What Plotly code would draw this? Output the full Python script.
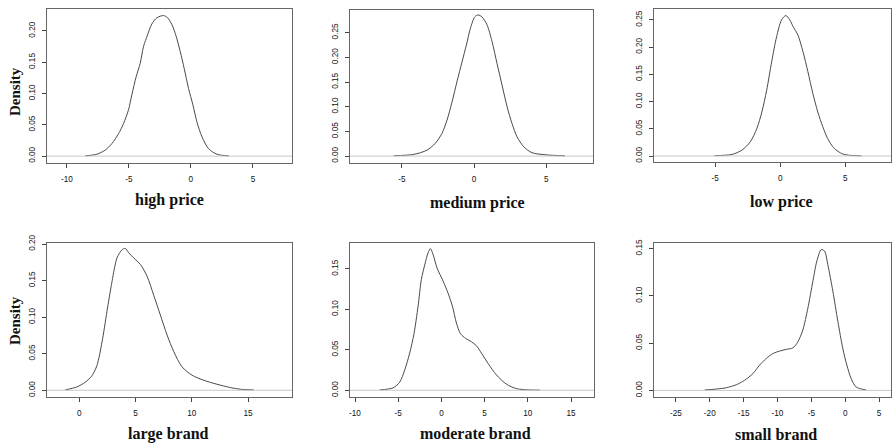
import plotly.graph_objects as go

# ---- data ----
high_price_x = [-8.52, -7.58, -6.91, -6.37, -5.83, -5.43, -5.03, -4.76, -4.41, -4.09, -3.82, -3.49, -3.15,
                -2.74, -2.20, -1.88, -1.53, -1.18, -0.86, -0.54, -0.19, 0.16, 0.48, 0.89, 1.42, 2.10, 3.08]
high_price_y = [0.0005, 0.003, 0.0096, 0.020, 0.036, 0.052, 0.074, 0.098, 0.127, 0.148, 0.175, 0.194, 0.211,
                0.221, 0.2245, 0.221, 0.210, 0.191, 0.167, 0.140, 0.108, 0.082, 0.055, 0.031, 0.012, 0.003,
                0.0003]

medium_price_x = [-5.57, -4.18, -3.26, -2.68, -2.22, -1.87, -1.52, -1.18, -0.83, -0.53, -0.25, 0.05, 0.28,
                  0.55, 0.90, 1.25, 1.59, 1.94, 2.29, 2.63, 2.98, 3.44, 4.02, 5.03, 6.30]
medium_price_y = [0.0007, 0.0034, 0.012, 0.026, 0.046, 0.073, 0.110, 0.151, 0.191, 0.225, 0.259, 0.282, 0.286,
                  0.282, 0.266, 0.232, 0.188, 0.144, 0.100, 0.066, 0.039, 0.019, 0.0068, 0.0025, 0.0005]

low_price_x = [-5.05, -3.69, -2.93, -2.30, -1.79, -1.41, -1.04, -0.66, -0.28, 0.10, 0.43, 0.73, 0.98,
               1.36, 1.74, 2.12, 2.50, 2.88, 3.26, 3.64, 4.14, 4.77, 5.40, 6.23]
low_price_y = [0.0006, 0.003, 0.011, 0.026, 0.051, 0.081, 0.121, 0.173, 0.219, 0.250, 0.258, 0.250, 0.238,
               0.222, 0.192, 0.155, 0.115, 0.081, 0.054, 0.032, 0.014, 0.004, 0.0012, 0.0004]

large_brand_x = [-1.25, -0.21, 0.53, 1.13, 1.57, 2.02, 2.46, 2.91, 3.35, 3.79, 4.09, 4.39, 4.83, 5.43,
                 6.02, 6.61, 7.2, 7.8, 8.39, 9.13, 10.02, 11.06, 12.24, 13.43, 14.32, 15.5]
large_brand_y = [0.0005, 0.0046, 0.011, 0.020, 0.034, 0.066, 0.108, 0.149, 0.181, 0.192, 0.194, 0.188,
                 0.181, 0.172, 0.156, 0.130, 0.103, 0.0755, 0.053, 0.032, 0.0206, 0.0137, 0.0082,
                 0.0037, 0.0014, 0.0005]

moderate_brand_x = [-7.14, -5.60, -4.83, -4.25, -3.67, -3.17, -2.70, -2.32, -1.93, -1.54, -1.27, -0.97, -0.50,
                    0.19, 0.77, 1.27, 1.74, 2.20, 2.82, 3.47, 4.05, 4.63, 5.41, 6.37, 7.53, 8.69, 10.23, 11.38]
moderate_brand_y = [0.0004, 0.003, 0.010, 0.025, 0.046, 0.070, 0.104, 0.137, 0.155, 0.170, 0.175, 0.168, 0.151,
                    0.135, 0.120, 0.104, 0.083, 0.070, 0.064, 0.060, 0.055, 0.046, 0.033, 0.019, 0.0075, 0.002,
                    0.0004, 0.0002]

small_brand_x = [-20.76, -19.04, -17.56, -16.08, -14.85, -13.63, -12.64, -11.66, -10.67, -9.69, -8.71,
                 -7.72, -6.98, -6.25, -5.51, -4.77, -4.18, -3.54, -3.05, -2.56, -1.82, -1.08, -0.34,
                 0.25, 0.89, 1.62, 3.1]
small_brand_y = [0.0004, 0.0014, 0.0028, 0.006, 0.0107, 0.0178, 0.0267, 0.0338, 0.039, 0.0416, 0.0434,
                 0.045, 0.0515, 0.064, 0.087, 0.1155, 0.137, 0.149, 0.1475, 0.133, 0.105, 0.073, 0.044,
                 0.0267, 0.0124, 0.0036, 0.0004]

panel_titles = ["high price", "medium price", "low price", "large brand", "moderate brand", "small brand"]
y_label = "Density"

x_ticks = [[-10, -5, 0, 5], [-5, 0, 5], [-5, 0, 5], [0, 5, 10, 15], [-10, -5, 0, 5, 10, 15],
           [-25, -20, -15, -10, -5, 0, 5]]
y_ticks = [[0, 0.05, 0.10, 0.15, 0.20], [0, 0.05, 0.10, 0.15, 0.20, 0.25], [0, 0.05, 0.10, 0.15, 0.20, 0.25],
           [0, 0.05, 0.10, 0.15, 0.20], [0, 0.05, 0.10, 0.15], [0, 0.05, 0.10, 0.15]]

series = [(high_price_x, high_price_y), (medium_price_x, medium_price_y), (low_price_x, low_price_y),
          (large_brand_x, large_brand_y), (moderate_brand_x, moderate_brand_y),
          (small_brand_x, small_brand_y)]

# ---- layout (pixel boxes of each panel) ----
W, H = 893, 445
boxes = [(47, 292, 9, 163), (350, 593, 10, 163), (654, 891, 9, 162),
         (47, 292, 243, 397), (350, 594, 243, 397), (654, 891, 243, 397)]
x_ranges = [[-11.6, 8.15], [-8.59, 8.24], [-9.69, 8.5], [-2.87, 18.9], [-10.58, 17.66], [-28.24, 6.77]]
y_ranges = [[-0.011, 0.235], [-0.014, 0.296], [-0.011, 0.270], [-0.0092, 0.2014], [-0.0083, 0.182],
            [-0.007, 0.156]]
title_pos = [(169, 200), (477, 203), (781, 202), (168, 434), (475, 433), (776, 434)]

fig = go.Figure()
layout = dict(width=W, height=H, margin=dict(l=0, r=0, t=0, b=0, autoexpand=False), paper_bgcolor="white",
              plot_bgcolor="white", showlegend=False)
annotations = []
shapes = []
tickfont = dict(family="Liberation Sans, Arial", size=8.2, color="#111")
for i, ((xs, ys), (x0, x1, y0, y1)) in enumerate(zip(series, boxes)):
    n = "" if i == 0 else str(i + 1)
    xa, ya = "x" + n, "y" + n
    fig.add_trace(go.Scatter(x=xs, y=ys, mode="lines", line=dict(color="#4a4a4a", width=1, shape="spline",
                             smoothing=0.8), xaxis=xa, yaxis=ya, hoverinfo="skip"))
    axis_common = dict(showgrid=False, zeroline=False, showline=True, linecolor="#666", linewidth=1,
                       mirror=True, ticks="outside", ticklen=4, tickcolor="#444", tickwidth=1,
                       tickfont=tickfont, automargin=False)
    layout["xaxis" + n] = dict(axis_common, domain=[x0 / W, x1 / W], range=x_ranges[i], tickvals=x_ticks[i],
                               ticktext=[str(v) for v in x_ticks[i]], anchor=ya, ticklabelstandoff=4)
    layout["yaxis" + n] = dict(axis_common, domain=[1 - y1 / H, 1 - y0 / H], range=y_ranges[i],
                               tickvals=y_ticks[i], ticktext=["%.2f" % v for v in y_ticks[i]], anchor=xa,
                               tickangle=-90, ticklabelstandoff=4)
    # density baseline (zero line across full width)
    shapes.append(dict(type="line", xref=xa + " domain", yref=ya, x0=0, x1=1, y0=0, y1=0,
                       line=dict(color="#c8c8c8", width=1)))
    tx, ty = title_pos[i]
    annotations.append(dict(text="<b>%s</b>" % panel_titles[i], x=tx / W, y=1 - ty / H, xref="paper",
                            yref="paper", showarrow=False, xanchor="center", yanchor="middle",
                            font=dict(family="Liberation Serif, Times New Roman", size=16, color="#111")))

for cy in (92, 321):
    annotations.append(dict(text="<b>%s</b>" % y_label, x=15 / W, y=1 - cy / H, xref="paper", yref="paper",
                            showarrow=False, textangle=-90, xanchor="center", yanchor="middle",
                            font=dict(family="Liberation Serif, Times New Roman", size=15, color="#111")))

layout["annotations"] = annotations
layout["shapes"] = shapes
fig.update_layout(**layout)
fig.write_html("out.html", config={"displayModeBar": False},
               post_script="document.body.style.margin='0';document.body.style.overflow='hidden';")
